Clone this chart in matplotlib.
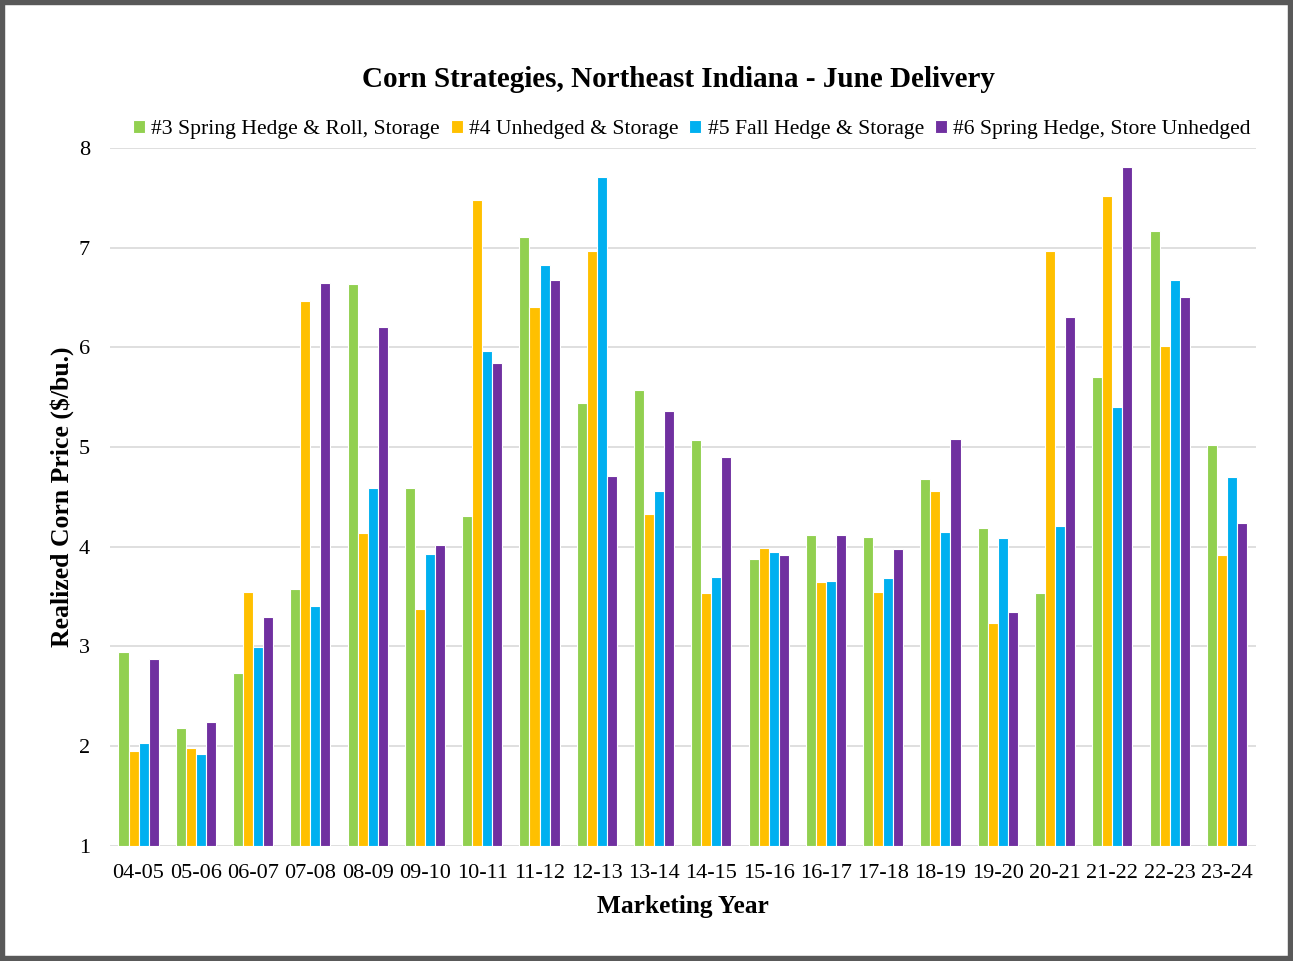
import matplotlib.pyplot as plt
import numpy as np
from matplotlib.patches import Rectangle

plt.rcParams["font.family"] = ["Liberation Serif", "DejaVu Serif"]

years = ["04-05", "05-06", "06-07", "07-08", "08-09", "09-10", "10-11", "11-12",
         "12-13", "13-14", "14-15", "15-16", "16-17", "17-18", "18-19", "19-20",
         "20-21", "21-22", "22-23", "23-24"]

spring_roll = [2.94, 2.18, 2.73, 3.58, 6.64, 4.59, 4.31, 7.11, 5.44, 5.57,
               5.07, 3.88, 4.12, 4.10, 4.68, 4.19, 3.54, 5.70, 7.17, 5.02]
unhedged = [1.95, 1.98, 3.55, 6.46, 4.14, 3.37, 7.48, 6.40, 6.97, 4.33,
            3.54, 3.99, 3.65, 3.55, 4.56, 3.23, 6.97, 7.52, 6.01, 3.92]
fall_hedge = [2.03, 1.92, 2.99, 3.40, 4.59, 3.93, 5.96, 6.83, 7.71, 4.56,
              3.70, 3.95, 3.66, 3.69, 4.15, 4.09, 4.21, 5.40, 6.68, 4.70]
spring_unhedged = [2.87, 2.24, 3.29, 6.65, 6.20, 4.02, 5.84, 6.68, 4.71, 5.36,
                   4.90, 3.92, 4.12, 3.98, 5.08, 3.34, 6.30, 7.81, 6.50, 4.24]

series = [
    ("#3 Spring Hedge & Roll, Storage", spring_roll, "#92D050"),
    ("#4 Unhedged & Storage", unhedged, "#FFC000"),
    ("#5 Fall Hedge & Storage", fall_hedge, "#00B0F0"),
    ("#6 Spring Hedge, Store Unhedged", spring_unhedged, "#7030A0"),
]

fig = plt.figure(figsize=(12.93, 9.61), dpi=100)
ax = fig.add_axes([0.085, 0.120, 0.886, 0.726])

x = np.arange(len(years))
width = 0.175
for i, (label, vals, color) in enumerate(series):
    offset = (i - 1.5) * width
    ax.bar(x + offset, np.array(vals) - 1, width, bottom=1, color=color,
           edgecolor="white", linewidth=0.8, label=label, zorder=3)

ax.set_ylim(1, 8)
ax.set_xlim(-0.5, len(years) - 0.5)
ax.set_yticks(range(1, 9))
ax.set_xticks(x)
ax.set_xticklabels(years)
ax.tick_params(axis="both", length=0, labelsize=16)
ax.tick_params(axis="y", pad=14.4)
ax.tick_params(axis="x", pad=13)
ax.yaxis.grid(True, color="#D9D9D9", linewidth=1.2, zorder=0)
for side in ["top", "right", "left", "bottom"]:
    ax.spines[side].set_visible(False)

ax.set_xlabel("Marketing Year", fontsize=18.3, fontweight="bold", labelpad=9)
ax.set_ylabel("Realized Corn Price ($/bu.)", fontsize=18.5, fontweight="bold",
              va="center")
ax.yaxis.set_label_coords(-0.042, 0.5)

fig.text(0.525, 0.917, "Corn Strategies, Northeast Indiana - June Delivery",
         ha="center", va="center", fontsize=21, fontweight="bold")

ax.legend(loc="lower center", bbox_to_anchor=(0.508, 1.0), ncol=4, frameon=False,
          fontsize=15.6, handlelength=0.55, handleheight=0.55, handletextpad=0.3,
          columnspacing=0.5, borderaxespad=0)

# dark frame around the whole chart
fig.patches.append(Rectangle((0, 0), 1, 1, transform=fig.transFigure, fill=False,
                             edgecolor="#595959", linewidth=7.5, zorder=10))

fig.savefig("out.png", dpi=100)
